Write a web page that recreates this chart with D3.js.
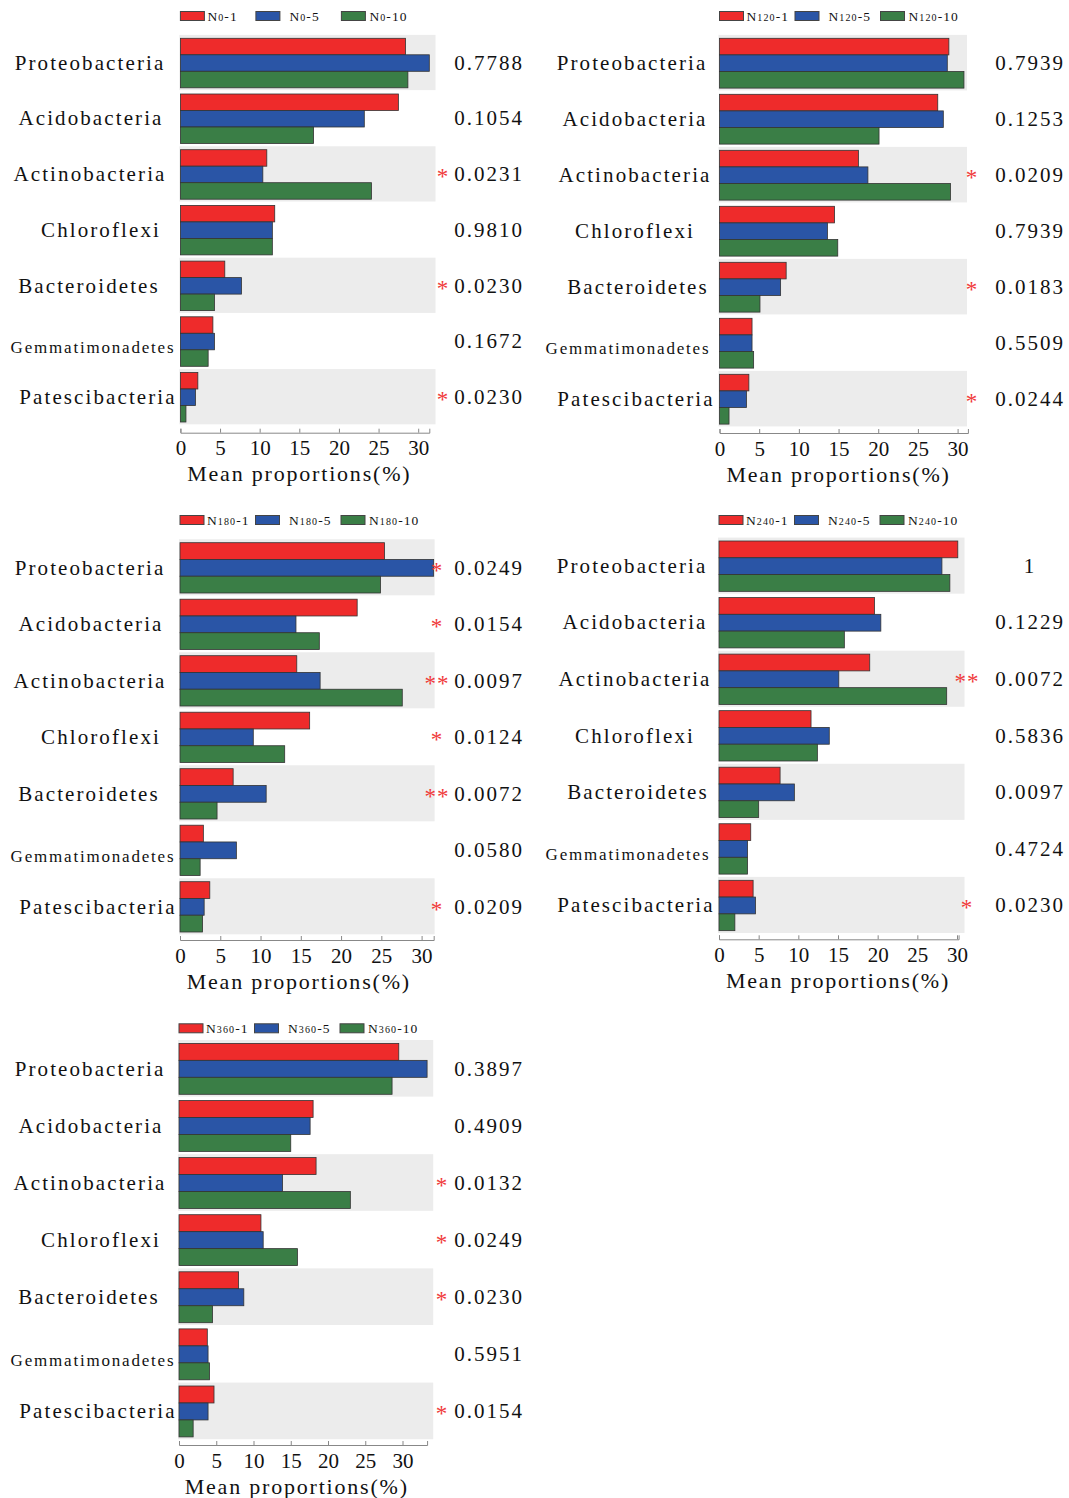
<!DOCTYPE html>
<html>
<head>
<meta charset="utf-8">
<script src="https://cdn.jsdelivr.net/npm/d3@7"></script>
<style>
  html, body { margin: 0; padding: 0; background: #fff; }
  svg { display: block; }
  text { font-family: "Liberation Serif", "Times New Roman", serif; fill: #111; }
</style>
</head>
<body>
<svg id="chart" width="1069" height="1498"></svg>
<script>
// ---------------- DATA ----------------
const categories = ["Proteobacteria", "Acidobacteria", "Actinobacteria", "Chloroflexi",
                    "Bacteroidetes", "Gemmatimonadetes", "Patescibacteria"];
const seriesSuffix = ["-1", "-5", "-10"];
const panelDays = ["0", "120", "180", "240", "360"];
const tickValues = [0, 5, 10, 15, 20, 25, 30];
const axisTitle = "Mean proportions(%)";

// mean proportions (%)
const n0_1   = [28.4, 27.5, 10.9, 11.9, 5.6, 4.1, 2.2];
const n0_5   = [31.4, 23.2, 10.4, 11.6, 7.7, 4.3, 1.9];
const n0_10  = [28.7, 16.8, 24.1, 11.6, 4.3, 3.5, 0.7];

const n120_1  = [28.9, 27.5, 17.5, 14.5, 8.4, 4.1, 3.7];
const n120_5  = [28.7, 28.2, 18.7, 13.6, 7.7, 4.1, 3.4];
const n120_10 = [30.8, 20.1, 29.1, 14.9, 5.1, 4.3, 1.2];

const n180_1  = [25.4, 22.0, 14.5, 16.1, 6.6, 2.9, 3.7];
const n180_5  = [31.5, 14.4, 17.4, 9.1, 10.7, 7.0, 3.0];
const n180_10 = [24.9, 17.3, 27.6, 13.0, 4.6, 2.5, 2.8];

const n240_1  = [30.1, 19.6, 19.0, 11.6, 7.7, 4.0, 4.3];
const n240_5  = [28.1, 20.4, 15.1, 13.9, 9.5, 3.6, 4.6];
const n240_10 = [29.1, 15.8, 28.7, 12.4, 5.0, 3.6, 2.0];

const n360_1  = [29.5, 18.0, 18.4, 11.0, 8.0, 3.8, 4.7];
const n360_5  = [33.3, 17.6, 13.9, 11.3, 8.7, 3.9, 3.9];
const n360_10 = [28.6, 15.0, 23.0, 15.9, 4.5, 4.1, 1.9];

// p-values and significance marks
const p0   = ["0.7788", "0.1054", "0.0231", "0.9810", "0.0230", "0.1672", "0.0230"];
const s0   = ["", "", "*", "", "*", "", "*"];
const p120 = ["0.7939", "0.1253", "0.0209", "0.7939", "0.0183", "0.5509", "0.0244"];
const s120 = ["", "", "*", "", "*", "", "*"];
const p180 = ["0.0249", "0.0154", "0.0097", "0.0124", "0.0072", "0.0580", "0.0209"];
const s180 = ["*", "*", "**", "*", "**", "", "*"];
const p240 = ["1", "0.1229", "0.0072", "0.5836", "0.0097", "0.4724", "0.0230"];
const s240 = ["", "", "**", "", "", "", "*"];
const p360 = ["0.3897", "0.4909", "0.0132", "0.0249", "0.0230", "0.5951", "0.0154"];
const s360 = ["", "", "*", "*", "*", "", "*"];

// ---------------- STYLE / LAYOUT ----------------
const colors = ["#ee2b2b", "#2a55a6", "#3a7e46"];
const bandColor = "#ececec";

// horizontal nudges of the category labels (left column / right column)
const labelShiftLeft  = [0, 1, 0, 11, -1, 3, 8];
const labelShiftRight = [-3, 0, 0, 0, 3, -7, 1];

const layouts = [
  { x0: 180.4, x30: 418.2, axisEnd: 31.4, bandRight: 435.5, rowTop: 34.9, pitch: 55.7, axisY: 432.7, labelX: 90,  shift: labelShiftLeft,  pX: 489,  starX: 443, legendY: 16, titleDx: 0 },
  { x0: 719.5, x30: 957.6, axisEnd: 31.3, bandRight: 967,   rowTop: 34.9, pitch: 56.0, axisY: 433,   labelX: 635, shift: labelShiftRight, pX: 1030, starX: 972, legendY: 16, titleDx: 0 },
  { x0: 180,   x30: 421.6, axisEnd: 31.5, bandRight: 434.6, rowTop: 539.3, pitch: 56.5, axisY: 940,  labelX: 90,  shift: labelShiftLeft,  pX: 489,  starX: 437, legendY: 520, titleDx: -2 },
  { x0: 719,   x30: 957,   axisEnd: 30.2, bandRight: 964.5, rowTop: 537.6, pitch: 56.55, axisY: 939.3, labelX: 635, shift: labelShiftRight, pX: 1030, starX: 967, legendY: 520, titleDx: 0 },
  { x0: 179,   x30: 402.5, axisEnd: 33.3, bandRight: 433.2, rowTop: 1040, pitch: 57.1, axisY: 1445, labelX: 90,  shift: labelShiftLeft,  pX: 489,  starX: 442, legendY: 1028.3, titleDx: 6 }
];

const panelSeries = [
  [n0_1, n0_5, n0_10],
  [n120_1, n120_5, n120_10],
  [n180_1, n180_5, n180_10],
  [n240_1, n240_5, n240_10],
  [n360_1, n360_5, n360_10]
];
const panelP = [p0, p120, p180, p240, p360];
const panelS = [s0, s120, s180, s240, s360];

const svg = d3.select("#chart");

panelDays.forEach((day, pi) => {
  const L = layouts[pi];
  const g = svg.append("g");
  const series = panelSeries[pi];

  const x = d3.scaleLinear().domain([0, 30]).range([L.x0, L.x30]);
  const y = d3.scaleBand().domain(categories)
    .range([L.rowTop, L.rowTop + categories.length * L.pitch]).paddingInner(0).paddingOuter(0);
  const ySub = d3.scaleBand().domain(seriesSuffix)
    .range([3.4, L.pitch - 2.8]).paddingInner(0);

  // alternating background bands
  g.selectAll("rect.band").data(categories.filter((c, i) => i % 2 === 0))
    .join("rect")
    .attr("x", L.x0 - 1)
    .attr("y", d => y(d))
    .attr("width", L.bandRight - L.x0 + 1)
    .attr("height", y.bandwidth() - 0.5)
    .attr("fill", bandColor);

  // bars
  seriesSuffix.forEach((s, si) => {
    g.selectAll("rect.bar" + si).data(categories)
      .join("rect")
      .attr("x", x(0))
      .attr("y", d => y(d) + ySub(s))
      .attr("width", (d, i) => x(series[si][i]) - x(0))
      .attr("height", ySub.bandwidth())
      .attr("fill", colors[si])
      .attr("stroke", "#333")
      .attr("stroke-width", 0.8);
  });

  // category labels
  g.selectAll("text.cat").data(categories)
    .join("text")
    .attr("x", (d, i) => L.labelX + L.shift[i])
    .attr("y", d => y(d) + y.bandwidth() / 2 + (d === "Gemmatimonadetes" ? 6 : 0))
    .attr("text-anchor", "middle")
    .attr("dominant-baseline", "central")
    .attr("font-size", d => d === "Gemmatimonadetes" ? 17 : 21)
    .attr("letter-spacing", d => d === "Gemmatimonadetes" ? 1.8 : 2.1)
    .text(d => d);

  // p-values
  g.selectAll("text.pv").data(categories)
    .join("text")
    .attr("x", L.pX)
    .attr("y", d => y(d) + y.bandwidth() / 2)
    .attr("text-anchor", "middle")
    .attr("dominant-baseline", "central")
    .attr("font-size", 21)
    .attr("letter-spacing", 2)
    .text((d, i) => panelP[pi][i]);

  // significance stars
  g.selectAll("text.star").data(categories)
    .join("text")
    .attr("x", L.starX)
    .attr("y", d => y(d) + y.bandwidth() / 2 + 10)
    .attr("text-anchor", "middle")
    .attr("font-size", 23)
    .attr("letter-spacing", 1)
    .style("fill", "#f03a3a")
    .text((d, i) => panelS[pi][i]);

  // axis
  const xa = d3.scaleLinear().domain([0, L.axisEnd]).range([L.x0, x(L.axisEnd)]);
  const axis = d3.axisBottom(xa).tickValues(tickValues).tickSize(-4).tickSizeOuter(-4).tickFormat(d3.format("d"));
  const ag = g.append("g").attr("transform", `translate(0,${L.axisY})`).call(axis);
  ag.select(".domain").attr("stroke", "#888").attr("stroke-width", 1);
  ag.selectAll(".tick line").attr("stroke", "#888");
  ag.selectAll(".tick text")
    .attr("y", 15.5).attr("dy", null)
    .attr("dominant-baseline", "central")
    .attr("font-family", "Liberation Serif, Times New Roman, serif")
    .attr("font-size", 21)
    .attr("fill", "#111");

  // axis title
  g.append("text")
    .attr("x", (x(0) + x(30)) / 2 + L.titleDx)
    .attr("y", L.axisY + 41)
    .attr("text-anchor", "middle")
    .attr("dominant-baseline", "central")
    .attr("font-size", 22)
    .attr("letter-spacing", 1.8)
    .text(axisTitle);

  // legend
  const swX = [0, 75.5, 161];
  const txX = [27, 109, 189];
  seriesSuffix.forEach((s, si) => {
    g.append("rect")
      .attr("x", L.x0 + swX[si])
      .attr("y", L.legendY - 4.5)
      .attr("width", 24).attr("height", 9)
      .attr("fill", colors[si]).attr("stroke", "#444").attr("stroke-width", 1);
    const t = g.append("text")
      .attr("x", L.x0 + txX[si])
      .attr("y", L.legendY + 4.5)
      .attr("font-size", 13.5)
      .attr("letter-spacing", 1.1);
    t.append("tspan").text("N");
    t.append("tspan").attr("font-size", 10).text(day);
    t.append("tspan").text(s);
  });
});
</script>
</body>
</html>
